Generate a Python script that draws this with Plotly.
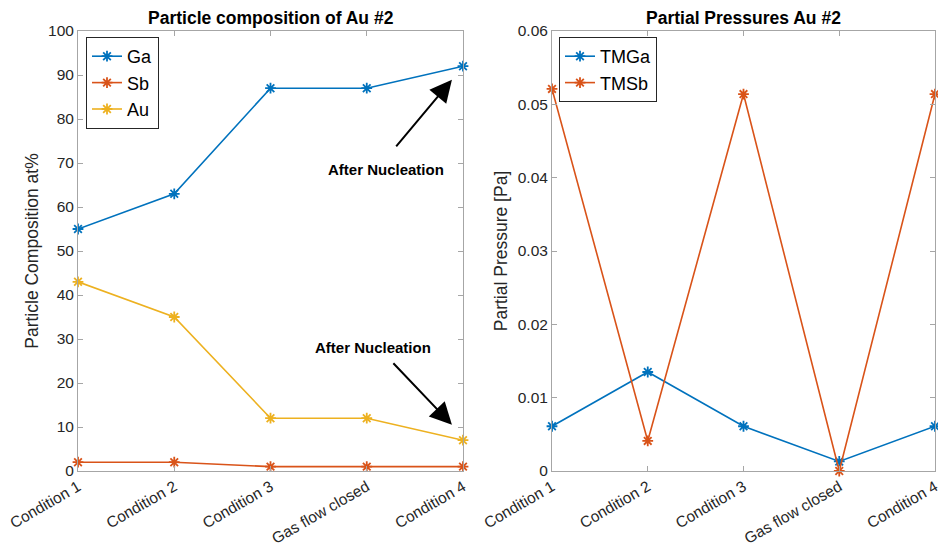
import plotly.graph_objects as go

categories = ["Condition 1", "Condition 2", "Condition 3", "Gas flow closed", "Condition 4"]
ga = [55, 63, 87, 87, 92]
sb = [2, 2, 1, 1, 1]
au = [43, 35, 12, 12, 7]
tmga = [0.0061, 0.0135, 0.0061, 0.0013, 0.0061]
tmsb = [0.0521, 0.0041, 0.0514, 0.0, 0.0514]

BLUE, ORANGE, YELLOW = "#0072BD", "#D95319", "#EDB120"
FONT = "Liberation Sans, Arial, sans-serif"
xs = list(range(len(categories)))

# page body has an 8px margin; compensate
OFF = 8
W, H = 946 - OFF, 547 - OFF
def px(v): return (v - OFF) / W
def py(v): return 1 - (v - OFF) / H

fig = go.Figure()

def add(x, y, name, color, xa, ya, legend):
    fig.add_trace(go.Scatter(
        x=x, y=y, name=name, mode="lines+markers", xaxis=xa, yaxis=ya,
        line=dict(color=color, width=1.6),
        marker=dict(symbol="asterisk-open", size=9, line=dict(color=color, width=1.8)),
        cliponaxis=False, legend=legend))

add(xs, ga, "Ga", BLUE, "x", "y", "legend")
add(xs, sb, "Sb", ORANGE, "x", "y", "legend")
add(xs, au, "Au", YELLOW, "x", "y", "legend")
add(xs, tmga, "TMGa", BLUE, "x2", "y2", "legend2")
add(xs, tmsb, "TMSb", ORANGE, "x2", "y2", "legend2")

axcol = "#A6A6A6"
tickfont = dict(family=FONT, size=15.5, color="#262626")
xcommon = dict(tickmode="array", tickvals=xs, ticktext=categories, tickangle=-30,
               range=[0, 4], showline=True, linecolor=axcol, mirror="ticks",
               ticks="inside", ticklen=5, tickcolor=axcol, showgrid=False,
               zeroline=False, tickfont=tickfont, automargin=False,
               ticklabeloverflow="allow")
ycommon = dict(showline=True, linecolor=axcol, mirror="ticks", ticks="inside",
               ticklen=5, tickcolor=axcol, showgrid=False, zeroline=False,
               tickfont=tickfont, automargin=False, ticklabeloverflow="allow")

yd = [py(471), py(31)]
legfont = dict(size=18, family=FONT, color="black")
fig.update_layout(
    width=W, height=H, plot_bgcolor="white", paper_bgcolor="white",
    margin=dict(l=0, r=0, t=0, b=0),
    font=dict(family=FONT, color="#262626"),
    xaxis=dict(domain=[px(78), px(463)], anchor="y", **xcommon),
    yaxis=dict(domain=yd, anchor="x", range=[0, 100], dtick=10,
               title=dict(text="Particle Composition at%", font=dict(size=17.5, family=FONT), standoff=4),
               **ycommon),
    xaxis2=dict(domain=[px(552), px(935)], anchor="y2", **xcommon),
    yaxis2=dict(domain=yd, anchor="x2", range=[0, 0.06], dtick=0.01,
                title=dict(text="Partial Pressure [Pa]", font=dict(size=17.5, family=FONT), standoff=5),
                **ycommon),
    legend=dict(x=px(86), y=py(37), xanchor="left", yanchor="top",
                bordercolor="#262626", borderwidth=1, bgcolor="white",
                font=legfont, tracegroupgap=0, itemwidth=30),
    legend2=dict(x=px(559), y=py(37), xanchor="left", yanchor="top",
                 bordercolor="#262626", borderwidth=1, bgcolor="white",
                 font=legfont, tracegroupgap=0, itemwidth=30),
    showlegend=True,
)

annots = [
    dict(text="<b>Particle composition of Au #2</b>", x=px((78 + 463) / 2), y=py(18),
         xref="paper", yref="paper", xanchor="center", yanchor="middle", showarrow=False,
         font=dict(size=17.5, family=FONT, color="black")),
    dict(text="<b>Partial Pressures Au #2</b>", x=px((552 + 935) / 2), y=py(18),
         xref="paper", yref="paper", xanchor="center", yanchor="middle", showarrow=False,
         font=dict(size=17.5, family=FONT, color="black")),
    dict(text="<b>After Nucleation</b>", x=3.2, y=68.5, xref="x", yref="y", showarrow=False,
         xanchor="center", yanchor="middle", font=dict(size=15, family=FONT, color="black")),
    dict(text="<b>After Nucleation</b>", x=3.06, y=28, xref="x", yref="y", showarrow=False,
         xanchor="center", yanchor="middle", font=dict(size=15, family=FONT, color="black")),
    dict(text="", x=3.885, y=88.9, xref="x", yref="y", ax=-57, ay=68, showarrow=True,
         arrowhead=2, arrowsize=2.2, arrowwidth=2, arrowcolor="black", standoff=0),
    dict(text="", x=3.885, y=10.5, xref="x", yref="y", ax=-60, ay=-63, showarrow=True,
         arrowhead=2, arrowsize=2.2, arrowwidth=2, arrowcolor="black", standoff=0),
]
fig.update_layout(annotations=annots)

fig.write_html("out.html")
